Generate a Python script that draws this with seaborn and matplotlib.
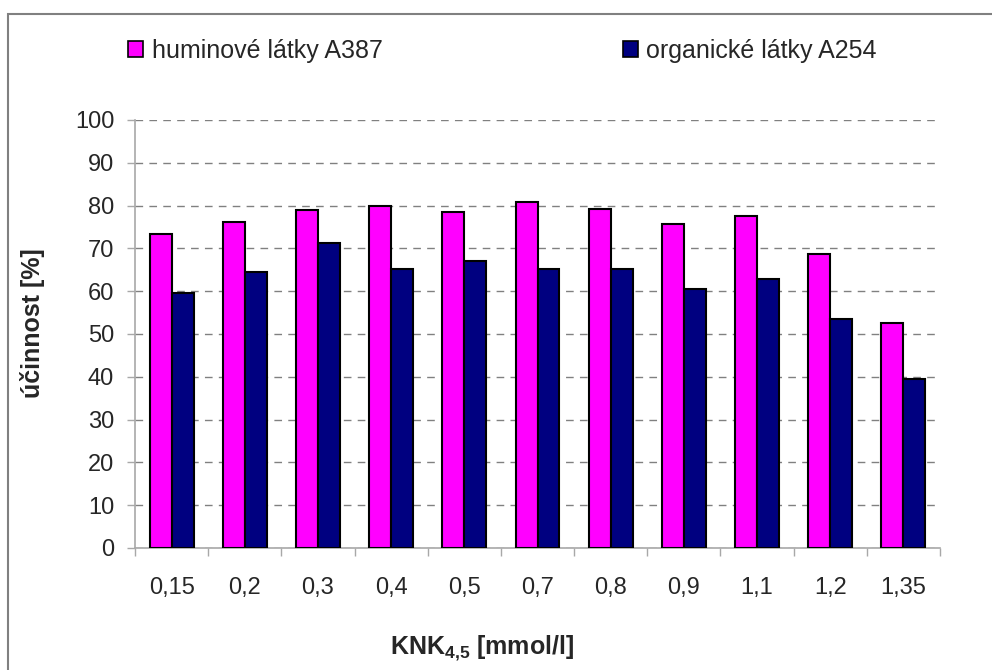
import pandas as pd
import matplotlib.pyplot as plt
import seaborn as sns
from matplotlib.patches import Patch, Rectangle


# hodnoty
knk = ['0,15', '0,2', '0,3', '0,4', '0,5', '0,7', '0,8', '0,9', '1,1', '1,2', '1,35']
huminove = [73.4, 76.2, 79.0, 80.0, 78.5, 80.9, 79.1, 75.7, 77.6, 68.8, 52.6]
organicke = [59.5, 64.6, 71.2, 65.1, 67.0, 65.1, 65.1, 60.4, 62.8, 53.5, 39.5]
series = ['huminové látky A387', 'organické látky A254']
colors = ['#FF00FF', '#000080']

df = pd.DataFrame({
    'knk': knk * 2,
    'ucinnost': huminove + organicke,
    'serie': [series[0]] * len(knk) + [series[1]] * len(knk),
})

sns.set_style('white')
plt.rcParams['font.family'] = ['Liberation Sans', 'DejaVu Sans']
plt.rcParams['mathtext.default'] = 'regular'

fig = plt.figure(figsize=(9.92, 6.70), dpi=100)
ax = fig.add_axes([135/992, 1 - 548/670, 805/992, 428/670])

sns.barplot(data=df, x='knk', y='ucinnost', hue='serie', palette=colors,
            saturation=1, width=0.6, gap=0, edgecolor='black', linewidth=1.5,
            legend=False, ax=ax, zorder=3)

ax.set_ylim(0, 100)
ax.set_xlim(-0.5, len(knk) - 0.5)
ax.set_yticks(range(0, 101, 10))
ax.yaxis.grid(True, color='#808080', linestyle=(0, (5.5, 4.5)), linewidth=1)
ax.set_axisbelow(True)

for s in ['top', 'right']:
    ax.spines[s].set_visible(False)
for s in ['left', 'bottom']:
    ax.spines[s].set_color('#a8a8a8')
    ax.spines[s].set_linewidth(1.2)

ax.tick_params(axis='y', direction='out', length=6, width=1, color='#a8a8a8',
               labelsize=17, pad=9, left=True)
ax.tick_params(axis='x', which='major', length=0, labelsize=17, pad=21)
ax.set_xticks([i - 0.5 for i in range(len(knk) + 1)], minor=True)
ax.tick_params(axis='x', which='minor', direction='out', length=6, width=1,
               color='#a8a8a8', bottom=True)

ax.set_xlabel('KNK$_{4{,}5}$ [mmol/l]', fontsize=18, fontweight='bold')
ax.xaxis.label.set_va('center')
ax.xaxis.set_label_coords((482 - 135) / 805, (548 - 648) / 428)
ax.set_ylabel('účinnost [%]', fontsize=18, fontweight='bold')
ax.yaxis.label.set_va('center')
ax.yaxis.set_label_coords((33 - 135) / 805, (548 - 323) / 428)

handles = [Patch(facecolor=c, edgecolor='black', linewidth=1.2) for c in colors]
fig.legend(handles, series, loc='center left', bbox_to_anchor=(128/992, 1 - 51/670),
           ncol=2, frameon=False, fontsize=18, handlelength=0.6, handleheight=0.6,
           handletextpad=0.35, columnspacing=9.6, borderpad=0, borderaxespad=0)

# ramecek kolem grafu
fig.add_artist(Rectangle((8/992, -0.1), 1.2, 1.1 - 14/670, transform=fig.transFigure,
                         fill=False, edgecolor='#808080', linewidth=1.5))

plt.savefig('out.png', dpi=100)
